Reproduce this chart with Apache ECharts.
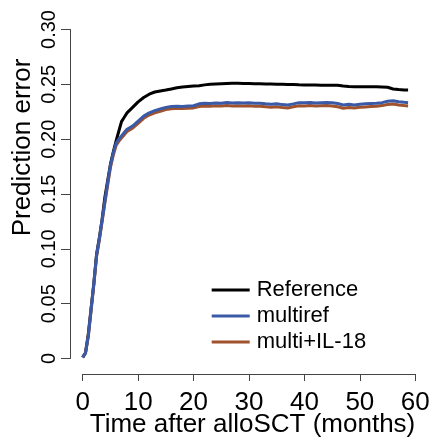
<!DOCTYPE html>
<html>
<head>
<meta charset="utf-8">
<script src="https://cdn.jsdelivr.net/npm/echarts@6/dist/echarts.min.js"></script>
<style>
html,body{margin:0;padding:0;background:#fff;}
#chart{width:436px;height:446px;}
</style>
</head>
<body>
<div id="chart"></div>
<script>
// Data
var months = [0,0.5,1,1.5,2,2.5,3,3.5,4,4.5,5,5.5,6,6.5,7,7.5,8,9,10,11,12,13,14,15,16,17,18,19,20,21,22,23,24,25,26,27,28,29,30,31,32,33,34,35,36,37,38,39,40,41,42,43,44,45,46,47,48,49,50,51,52,53,54,55,56,57,58,58.7];
var reference = [0.001,0.005,0.022,0.045,0.068,0.095,0.110,0.127,0.147,0.162,0.177,0.188,0.198,0.207,0.216,0.220,0.224,0.229,0.234,0.238,0.241,0.243,0.244,0.2448,0.2458,0.2468,0.2475,0.248,0.2485,0.2488,0.2495,0.2500,0.2503,0.2505,0.2507,0.2509,0.2509,0.2508,0.2507,0.2506,0.2505,0.2503,0.2502,0.2501,0.2500,0.2499,0.2498,0.2496,0.2495,0.2494,0.2493,0.2492,0.2492,0.2491,0.2491,0.2485,0.2480,0.2478,0.2478,0.2478,0.2478,0.2477,0.2475,0.2473,0.2458,0.2452,0.2448,0.2448];
var multiref = [0.001,0.005,0.020,0.044,0.068,0.094,0.109,0.126,0.143,0.160,0.176,0.187,0.196,0.200,0.203,0.206,0.209,0.212,0.2165,0.221,0.224,0.226,0.2275,0.229,0.2298,0.2300,0.2298,0.2302,0.2305,0.2322,0.2327,0.2325,0.2330,0.2328,0.2334,0.2330,0.2333,0.2330,0.2332,0.2328,0.2327,0.2322,0.2318,0.2322,0.2315,0.2312,0.2322,0.2333,0.2332,0.2335,0.2330,0.2333,0.2335,0.2333,0.2325,0.2312,0.2318,0.2312,0.2318,0.2322,0.2325,0.2327,0.2333,0.2345,0.2350,0.2342,0.2336,0.2333];
var multiIL18 = [0.001,0.005,0.020,0.043,0.067,0.093,0.108,0.125,0.142,0.158,0.174,0.185,0.194,0.198,0.201,0.204,0.207,0.210,0.2145,0.219,0.222,0.224,0.2255,0.227,0.2278,0.2282,0.2280,0.2282,0.2285,0.2298,0.2302,0.2300,0.2305,0.2302,0.2306,0.2302,0.2305,0.2303,0.2305,0.2300,0.2300,0.2296,0.2292,0.2295,0.2288,0.2285,0.2295,0.2305,0.2303,0.2306,0.2302,0.2305,0.2306,0.2303,0.2295,0.2282,0.2288,0.2284,0.2290,0.2294,0.2297,0.2300,0.2306,0.2316,0.2320,0.2312,0.2306,0.2303];
var seriesNames = ['Reference','multiref','multi+IL-18'];
var xTicks = [0,10,20,30,40,50,60];
var yTicks = [0,0.05,0.10,0.15,0.20,0.25,0.30];
var xTitle = 'Time after alloSCT (months)';
var yTitle = 'Prediction error';

function pairs(xs, ys){ return xs.map(function(x,i){ return [x, ys[i]]; }); }

var FONT = "'Liberation Sans', Arial, Helvetica, sans-serif";
var chart = echarts.init(document.getElementById('chart'), null, {renderer:'canvas'});
chart.setOption({
  animation:false,
  backgroundColor:'#ffffff',
  grid:{left:82.7, right:20.7, top:29.5, bottom:87.5, containLabel:false, outerBoundsMode:'none'},
  xAxis:{
    type:'value', min:xTicks[0], max:xTicks[xTicks.length-1], interval:10,
    offset:15.5,
    name:xTitle, nameLocation:'middle', nameGap:38, nameMoveOverlap:false,
    nameTextStyle:{fontFamily:FONT, fontSize:26, color:'#000', padding:[0,0,0,7]},
    axisLine:{show:true, onZero:false, lineStyle:{color:'#444', width:1}},
    axisTick:{show:true, length:7, lineStyle:{color:'#444', width:1}},
    axisLabel:{fontFamily:FONT, fontSize:26, color:'#000', margin:16, showMinLabel:true, showMaxLabel:true},
    splitLine:{show:false}
  },
  yAxis:{
    type:'value', min:yTicks[0], max:yTicks[yTicks.length-1], interval:0.05,
    offset:12.7,
    axisLine:{show:true, onZero:false, lineStyle:{color:'#444', width:1}},
    axisTick:{show:true, length:9, lineStyle:{color:'#444', width:1}},
    axisLabel:{fontFamily:"'Liberation Sans Narrow', 'Liberation Sans', Arial, sans-serif", fontSize:20, color:'#000', rotate:90, margin:11,
      formatter:function(v){ return v===0 ? '0' : v.toFixed(2); }},
    splitLine:{show:false}
  },
  graphic:[{
    type:'text', x:22.7, y:147.5, rotation:Math.PI/2,
    style:{text:yTitle, fontFamily:FONT, fontSize:26, fill:'#000', align:'center', verticalAlign:'middle'}
  }],
  legend:{
    data:seriesNames, orient:'vertical', left:211.7, top:279, padding:0,
    icon:'rect', itemWidth:38, itemHeight:3, itemGap:4,
    textStyle:{fontFamily:FONT, fontSize:22, color:'#000', lineHeight:22, padding:[0,0,0,2]},
    selectedMode:false
  },
  series:[
    {name:seriesNames[0], type:'line', data:pairs(months, reference), symbol:'none', smooth:false,
     lineStyle:{color:'#000000', width:3}, itemStyle:{color:'#000000'}, z:2},
    {name:seriesNames[2], type:'line', data:pairs(months, multiIL18), symbol:'none', smooth:false,
     lineStyle:{color:'#a0522d', width:3}, itemStyle:{color:'#a0522d'}, z:3},
    {name:seriesNames[1], type:'line', data:pairs(months, multiref), symbol:'none', smooth:false,
     lineStyle:{color:'#3a5aa8', width:3}, itemStyle:{color:'#3a5aa8'}, z:4}
  ]
});
</script>
</body>
</html>
